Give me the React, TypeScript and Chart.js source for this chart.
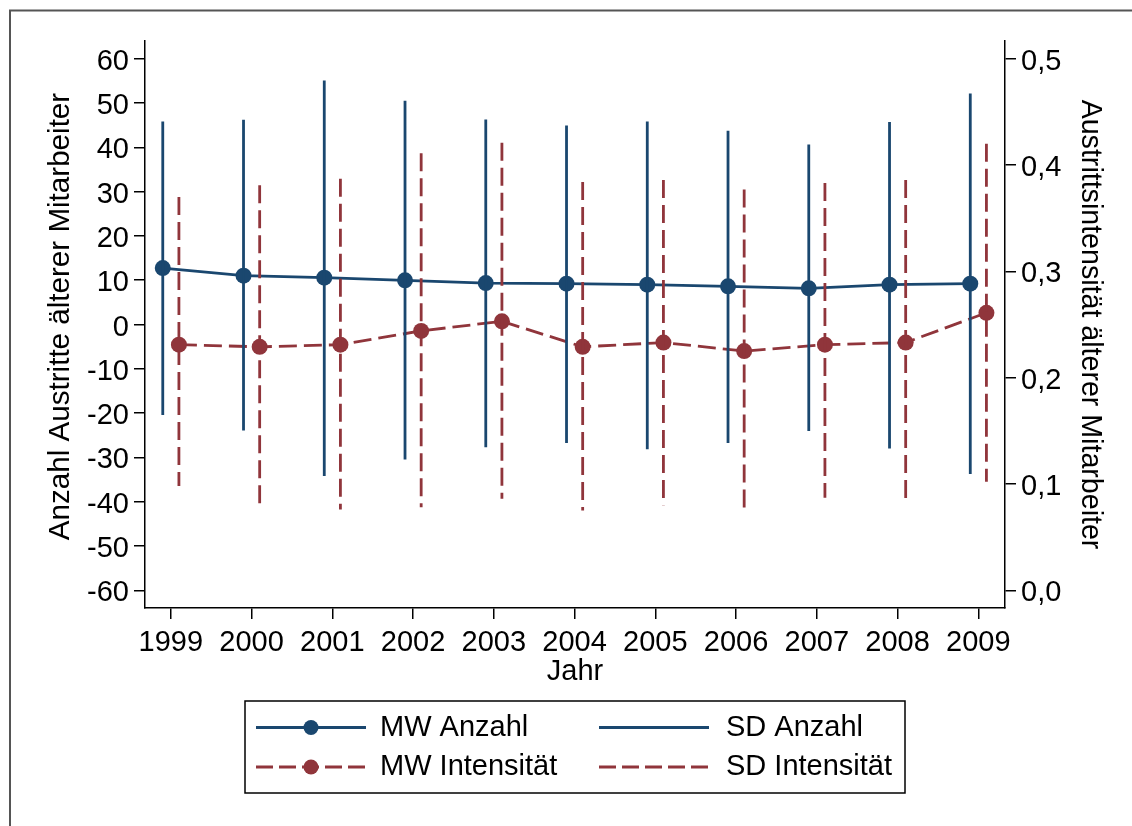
import React, { useEffect, useRef } from 'react';
import { Chart, registerables } from 'chart.js';

Chart.register(...registerables);

// ---- Data ----
const years = [1999, 2000, 2001, 2002, 2003, 2004, 2005, 2006, 2007, 2008, 2009];

// Mittelwert Anzahl (left axis)
const mwAnzahl = [12.74, 11.03, 10.58, 9.97, 9.36, 9.22, 9.0, 8.61, 8.16, 9.0, 9.22];
// SD Anzahl range (mean +/- SD), upper / lower ends
const sdAnzahlOben = [45.85, 46.23, 55.1, 50.52, 46.3, 44.95, 45.85, 43.75, 40.66, 45.69, 52.17];
const sdAnzahlUnten = [-20.43, -23.95, -34.2, -30.5, -27.72, -26.75, -28.17, -26.75, -24.04, -28.02, -33.75];

// Mittelwert Intensität (right axis)
const mwIntensitaet = [0.231, 0.229, 0.231, 0.244, 0.253, 0.229, 0.233, 0.225, 0.231, 0.233, 0.261];
// SD Intensität range, upper / lower ends
const sdIntensitaetOben = [0.370, 0.381, 0.387, 0.411, 0.421, 0.384, 0.386, 0.377, 0.383, 0.386, 0.420];
const sdIntensitaetUnten = [0.098, 0.077, 0.076, 0.078, 0.086, 0.075, 0.080, 0.073, 0.087, 0.081, 0.102];

const leftTicks = [-60, -50, -40, -30, -20, -10, 0, 10, 20, 30, 40, 50, 60];
const rightTicks = [0, 0.1, 0.2, 0.3, 0.4, 0.5];

const labels = {
  x: 'Jahr',
  yLeft: 'Anzahl Austritte älterer Mitarbeiter',
  yRight: 'Austrittsintensität älterer Mitarbeiter',
  mwAnzahl: 'MW Anzahl',
  sdAnzahl: 'SD Anzahl',
  mwIntensitaet: 'MW Intensität',
  sdIntensitaet: 'SD Intensität',
};

// ---- Styles ----
const NAVY = '#1a476f';
const MAROON = '#90353b';
const FONT_FAMILY = '"Liberation Sans", Arial, Helvetica, sans-serif';
const FONT_SIZE = 29;
const LINE_W = 2.8;
const DASH = [18, 7];
const SHIFT = 0.1;

function rangeSegments(xs: number[], lo: number[], hi: number[], shift: number) {
  const out: any[] = [];
  xs.forEach((yr, i) => {
    out.push({ x: yr + shift, y: hi[i] });
    out.push({ x: yr + shift, y: lo[i] });
    out.push({ x: yr + shift, y: null });
  });
  return out;
}

const framePlugin = {
  id: 'frameAndLegend',
  afterDraw(chart: any) {
    const ctx = chart.ctx as CanvasRenderingContext2D;
    ctx.save();
    // outer frame
    ctx.strokeStyle = '#555555';
    ctx.lineWidth = 2;
    ctx.beginPath();
    ctx.moveTo(10, 826);
    ctx.lineTo(10, 10.5);
    ctx.lineTo(1132, 10.5);
    ctx.stroke();

    // left axis title
    ctx.save();
    ctx.translate(61, 316.5);
    ctx.rotate(-Math.PI / 2);
    ctx.font = `29.6px ${FONT_FAMILY}`;
    ctx.fillStyle = '#000';
    ctx.textAlign = 'center';
    ctx.textBaseline = 'middle';
    ctx.fillText(labels.yLeft, 0, 0);
    ctx.restore();

    // legend box
    ctx.strokeStyle = '#000';
    ctx.lineWidth = 1.5;
    ctx.strokeRect(245, 701, 660, 92);

    const row1 = 727.5;
    const row2 = 767;
    ctx.font = `${FONT_SIZE}px ${FONT_FAMILY}`;
    ctx.textBaseline = 'middle';
    ctx.textAlign = 'left';
    ctx.lineWidth = LINE_W;

    // MW Anzahl
    ctx.strokeStyle = NAVY;
    ctx.setLineDash([]);
    ctx.beginPath();
    ctx.moveTo(256, row1);
    ctx.lineTo(366, row1);
    ctx.stroke();
    ctx.fillStyle = NAVY;
    ctx.beginPath();
    ctx.arc(311, row1, 7.5, 0, Math.PI * 2);
    ctx.fill();

    // SD Anzahl
    ctx.beginPath();
    ctx.moveTo(599, row1);
    ctx.lineTo(709, row1);
    ctx.stroke();

    // MW Intensität
    ctx.strokeStyle = MAROON;
    ctx.setLineDash([17, 6]);
    ctx.beginPath();
    ctx.moveTo(256, row2);
    ctx.lineTo(366, row2);
    ctx.stroke();
    ctx.setLineDash([]);
    ctx.fillStyle = MAROON;
    ctx.beginPath();
    ctx.arc(311, row2, 7.5, 0, Math.PI * 2);
    ctx.fill();

    // SD Intensität
    ctx.setLineDash([17, 6]);
    ctx.beginPath();
    ctx.moveTo(599, row2);
    ctx.lineTo(709, row2);
    ctx.stroke();
    ctx.setLineDash([]);

    ctx.fillStyle = '#000';
    ctx.fillText(labels.mwAnzahl, 380, row1);
    ctx.fillText(labels.sdAnzahl, 726, row1);
    ctx.fillText(labels.mwIntensitaet, 380, row2);
    ctx.fillText(labels.sdIntensitaet, 726, row2);
    ctx.restore();
  },
};

const bgPlugin = {
  id: 'bgWhite',
  beforeDraw(chart: any) {
    const ctx = chart.ctx;
    ctx.save();
    ctx.fillStyle = '#fff';
    ctx.fillRect(0, 0, chart.width, chart.height);
    ctx.restore();
  },
};

export default function App() {
  const ref = useRef<HTMLCanvasElement | null>(null);

  useEffect(() => {
    if (!ref.current) return;
    const font = { family: FONT_FAMILY, size: FONT_SIZE };
    const axisCommon = {
      grid: { drawOnChartArea: false, drawTicks: true, tickLength: 11, color: '#000', lineWidth: 1.5 },
      border: { display: true, color: '#000', width: 1.5 },
    };

    const chart = new Chart(ref.current, {
      type: 'line',
      data: {
        datasets: [
          {
            label: labels.sdAnzahl,
            data: rangeSegments(years, sdAnzahlUnten, sdAnzahlOben, -SHIFT),
            yAxisID: 'y',
            borderColor: NAVY,
            borderWidth: LINE_W,
            pointRadius: 0,
            spanGaps: false,
            tension: 0,
          },
          {
            label: labels.sdIntensitaet,
            data: rangeSegments(years, sdIntensitaetUnten, sdIntensitaetOben, SHIFT),
            yAxisID: 'y1',
            borderColor: MAROON,
            borderWidth: LINE_W,
            borderDash: DASH,
            pointRadius: 0,
            spanGaps: false,
            tension: 0,
          },
          {
            label: labels.mwAnzahl,
            data: years.map((yr, i) => ({ x: yr - SHIFT, y: mwAnzahl[i] })),
            yAxisID: 'y',
            borderColor: NAVY,
            backgroundColor: NAVY,
            borderWidth: LINE_W,
            pointRadius: 8,
            pointBorderWidth: 0,
            pointBackgroundColor: NAVY,
            tension: 0,
          },
          {
            label: labels.mwIntensitaet,
            data: years.map((yr, i) => ({ x: yr + SHIFT, y: mwIntensitaet[i] })),
            yAxisID: 'y1',
            borderColor: MAROON,
            backgroundColor: MAROON,
            borderWidth: LINE_W,
            borderDash: DASH,
            pointRadius: 8,
            pointBorderWidth: 0,
            pointBackgroundColor: MAROON,
            tension: 0,
          },
        ],
      },
      options: {
        animation: false,
        responsive: false,
        maintainAspectRatio: false,
        layout: { padding: { top: 41, left: 0, right: 0, bottom: 0 } },
        plugins: {
          legend: { display: false },
          tooltip: { enabled: false },
        },
        scales: {
          x: {
            type: 'linear',
            min: 1998.68,
            max: 2009.33,
            ...axisCommon,
            afterBuildTicks: (s: any) => {
              s.ticks = years.map((v) => ({ value: v }));
            },
            afterFit: (s: any) => {
              s.height = 218;
            },
            ticks: {
              font,
              color: '#000',
              padding: 7,
              maxRotation: 0,
              autoSkip: false,
              callback: (v: any) => String(v),
            },
            title: {
              display: true,
              text: labels.x,
              font,
              color: '#000',
              padding: { top: 0, bottom: 137 },
            },
          },
          y: {
            type: 'linear',
            position: 'left',
            min: -64,
            max: 64,
            ...axisCommon,
            afterBuildTicks: (s: any) => {
              s.ticks = leftTicks.map((v) => ({ value: v }));
            },
            afterFit: (s: any) => {
              s.width = 145;
            },
            ticks: {
              font,
              color: '#000',
              padding: 5,
              labelOffset: 3,
              callback: (v: any) => String(v),
            },
            title: { display: false },
          },
          y1: {
            type: 'linear',
            position: 'right',
            min: -1 / 60,
            max: 0.5 + 1 / 60,
            ...axisCommon,
            afterBuildTicks: (s: any) => {
              s.ticks = rightTicks.map((v) => ({ value: v }));
            },
            afterFit: (s: any) => {
              s.width = 127;
            },
            ticks: {
              font,
              color: '#000',
              padding: 5,
              labelOffset: 3,
              callback: (v: any) => Number(v).toFixed(1).replace('.', ','),
            },
            title: {
              display: true,
              text: labels.yRight,
              font: { family: FONT_FAMILY, size: 28.6 },
              color: '#000',
              padding: { top: 25, bottom: 0 },
            },
          },
        },
      },
      plugins: [bgPlugin, framePlugin],
    } as any);

    return () => chart.destroy();
  }, []);

  return (
    <div style={{ position: 'fixed', left: 0, top: 0, width: 1132, height: 826, background: '#fff' }}>
      <canvas ref={ref} width={1132} height={826} style={{ display: 'block', width: 1132, height: 826 }} />
    </div>
  );
}
